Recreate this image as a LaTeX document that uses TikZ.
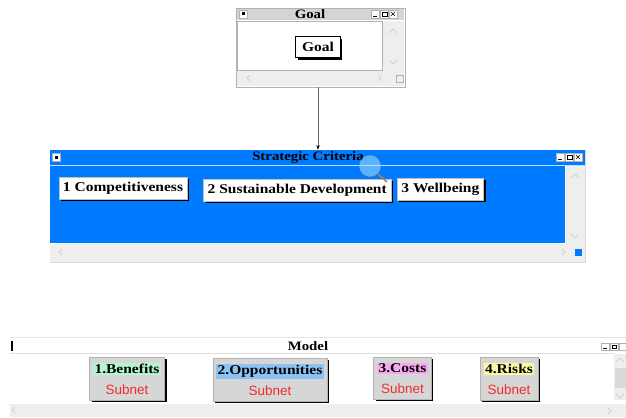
\documentclass[tikz,border=0pt]{standalone}
\usepackage{fontspec}
\setmainfont{Liberation Serif}[FakeStretch=1.15]
\newfontfamily\subnetfont{Liberation Sans}
\usetikzlibrary{arrows.meta,positioning,shadows}
\definecolor{winblue}{RGB}{0,122,255}
\definecolor{scrollbg}{RGB}{238,238,238}
\definecolor{titlegray}{RGB}{212,212,212}
\definecolor{netgray}{RGB}{214,214,214}
\definecolor{benefitcol}{RGB}{180,245,210}
\definecolor{oppcol}{RGB}{140,195,245}
\definecolor{costcol}{RGB}{245,170,240}
\definecolor{riskcol}{RGB}{250,250,165}
\definecolor{subnetred}{RGB}{240,45,45}
\newcommand\subnetlabel{{\subnetfont\mdseries\color{subnetred}Subnet}}
\newcommand\nettitle[2]{{\setlength\fboxsep{1.2pt}\colorbox{#1}{#2}}}
\tikzset{win/.style={draw=gray!60,inner sep=0pt}}
\tikzset{wintitle/.style={font=\bfseries\fontsize{11}{13}\selectfont,inner sep=0pt}}
\tikzset{blackshadow/.style={drop shadow={shadow xshift=1.8pt,shadow yshift=-1.8pt,fill=black,opacity=1}}}
\tikzset{critbox/.style={draw=gray!50,fill=white,blackshadow,inner xsep=3.5pt,inner ysep=4pt,
    font=\bfseries\fontsize{11.5}{13}\selectfont}}
\tikzset{goalbox/.style={critbox,draw=black,line width=1pt,inner xsep=5.5pt,inner ysep=5pt}}
\tikzset{netbox/.style={draw=gray!60,fill=netgray,blackshadow,anchor=north,align=center,
    inner xsep=3pt,inner ysep=4.5pt,font=\bfseries\fontsize{11.5}{18}\selectfont}}
\tikzset{chev/.style={gray!45,line width=0.5pt}}
\tikzset{tbtn/.style={draw=gray!60,fill=white,line width=0.4pt}}

\begin{document}
\begin{tikzpicture}[x=0.3mm,y=-0.3mm]
  \useasboundingbox (0,0) rectangle (626,417);

  % Goal window
  \node[win,minimum width=50.7mm,minimum height=23.7mm] (goalwin) at (320.5,47.5) {};
  \fill[titlegray] (237,9) rectangle (404,20);
  \node[wintitle] (goaltitle) at (310,14) {Goal};
  \draw[tbtn] (239,10) rectangle +(8,8);
  \fill (241.5,12.5) rectangle +(3,3);
  \foreach \bx in {371,380,389}
    \draw[tbtn] (\bx,10) rectangle +(8,8);
  \draw (373,16) -- (377,16);
  \draw (382,12) rectangle (387,16);
  \draw (391,12) -- (395,16) (391,16) -- (395,12);
  \draw[gray!60] (237,21) rectangle (382,70);
  \fill[scrollbg] (383,21) rectangle (404,86);
  \fill[scrollbg] (237,71) rectangle (404,86);
  \draw[chev] (389,33) -- ++(4,-4) -- ++(4,4);
  \draw[chev] (389,60) -- ++(4,4) -- ++(4,-4);
  \draw[chev] (250,75) -- ++(-3,3) -- ++(3,3);
  \draw[chev] (378,75) -- ++(3,3) -- ++(-3,3);
  \draw[gray!60] (396,75) rectangle (403,82);
  \node[goalbox] (goal) at (318,47) {Goal};

  % Strategic Criteria window
  \node[win,draw=gray!30,minimum width=160.5mm,minimum height=33.6mm] (critwin) at (317.5,206) {};
  \fill[winblue] (50,150) rectangle (585,165);
  \draw[white!75!winblue] (50,165.5) -- (585,165.5);
  \fill[winblue] (50,166) rectangle (565,243);
  \fill[scrollbg] (566,166) rectangle (585,262);
  \fill[scrollbg] (50,244) rectangle (585,262);
  \node[wintitle] (crittitle) at (308,157) {Strategic Criteria};
  \draw[tbtn] (52,153) rectangle +(8,8);
  \fill (54.5,155.5) rectangle +(3,3);
  \foreach \bx in {556,565,574}
    \draw[tbtn] (\bx,153) rectangle +(8,8);
  \draw (558,159) -- (562,159);
  \draw (567,155) rectangle (572,159);
  \draw (576,155) -- (580,159) (576,159) -- (580,155);
  \draw[chev] (571,178) -- ++(4,-4) -- ++(4,4);
  \draw[chev] (571,234) -- ++(4,4) -- ++(4,-4);
  \draw[chev] (62,249) -- ++(-3,3) -- ++(3,3);
  \draw[chev] (562,249) -- ++(3,3) -- ++(-3,3);
  \fill[winblue] (575,249) rectangle (582,256);
  \node[critbox] (comp) at (123,188) {1 Competitiveness};
  \node[critbox,right=4.8mm of comp,yshift=-0.6mm] (susdev) {2 Sustainable Development};
  \node[critbox,right=1.8mm of susdev,yshift=0.3mm] (wellbeing) {3 Wellbeing};
  \fill[cyan!35!white,opacity=0.55] (370,166) circle[radius=3.2mm];
  \draw[cyan!30!gray,opacity=0.6] (370,166) circle[radius=3.2mm];
  \draw[brown!60!gray,line width=1.4pt] (378,174) -- (387,182);

  \draw[gray!80!black,-{Stealth[length=4pt,width=3pt,black]}] (goalwin.south -| goal) -- (critwin.north -| goal);

  % Model window
  \draw[gray!20] (10,337) -- (626,337);
  \node[win,draw=none,minimum width=184.8mm,minimum height=23.7mm] (modelwin) at (318,377.5) {};
  \node[wintitle] (modeltitle) at (308,346) {Model};
  \fill (11,341) rectangle (13,351);
  \foreach \bx in {601,610,619}
    \draw[tbtn] (\bx,343) rectangle +(8,7);
  \draw (603,348) -- (607,348);
  \draw (612,345) rectangle (616,348);
  \draw[gray!25] (10,353.5) -- (614,353.5);
  \fill[scrollbg] (614,354) rectangle (626,400);
  \fill[gray!30] (615,368) rectangle (626,388);
  \draw[chev] (616,362) -- ++(4,-4) -- ++(4,4);
  \draw[chev] (616,394) -- ++(4,4) -- ++(4,-4);
  \fill[scrollbg] (10,404) rectangle (626,417);
  \draw[chev] (15,407) -- ++(-3,3) -- ++(3,3);
  \draw[chev] (608,408) -- ++(3,3) -- ++(-3,3);
  \node[netbox] (benefits) at (127,357) {\nettitle{benefitcol}{1.Benefits}\\\subnetlabel};
  \node[netbox] (opport) at (270,358) {\nettitle{oppcol}{2.Opportunities}\\\subnetlabel};
  \node[netbox] (costs) at (402.5,357) {\nettitle{costcol}{3.Costs}\\\subnetlabel};
  \node[netbox] (risks) at (509,357) {\nettitle{riskcol}{4.Risks}\\\subnetlabel};
\end{tikzpicture}
\end{document}
